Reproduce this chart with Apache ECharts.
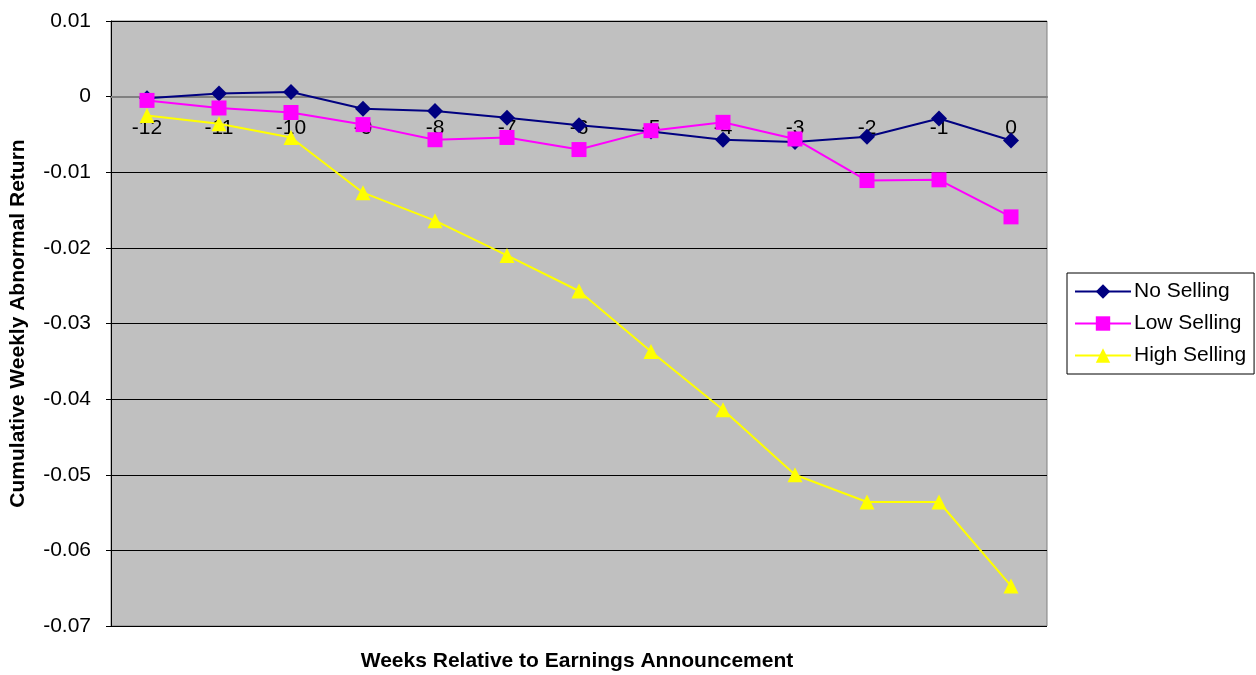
<!DOCTYPE html>
<html>
<head>
<meta charset="utf-8"/>
<script src="https://cdn.jsdelivr.net/npm/echarts@6/dist/echarts.min.js"></script>
<style>
  body { margin:0; background:#fff; }
  #chart { width:1256px; height:675px; }
</style>
</head>
<body>
<div id="chart"></div>
<script>
// weeks relative to the announcement
var weeks = ['-12','-11','-10','-9','-8','-7','-6','-5','-4','-3','-2','-1','0'];
var noSelling   = [-0.0002, 0.0004, 0.0006, -0.0016, -0.0019, -0.0028, -0.0038, -0.0046, -0.0057, -0.0060, -0.0053, -0.0029, -0.0058];
var lowSelling  = [-0.0005, -0.0015, -0.0021, -0.0037, -0.0057, -0.0054, -0.0070, -0.0045, -0.0034, -0.0056, -0.0111, -0.0110, -0.0159];
var highSelling = [-0.0025, -0.0036, -0.0054, -0.0127, -0.0164, -0.0210, -0.0257, -0.0337, -0.0414, -0.0500, -0.0536, -0.0536, -0.0647];
var yMin = -0.07, yMax = 0.01;

var fnt = 'Arial, "Liberation Sans", sans-serif';
var gTop = 21, gBottom = 49, H = 675;
// move the category axis up to the zero line
var plotH = H - gTop - gBottom;
var zeroOffset = -plotH * (0 - yMin) / (yMax - yMin);

var chart = echarts.init(document.getElementById('chart'));

function mk(name, data, color, symbol, size){
  return {
    name: name, type: 'line', data: data,
    symbol: symbol, symbolSize: size,
    itemStyle: { color: color },
    lineStyle: { color: color, width: 2 },
    emphasis: { disabled: true },
    animation: false
  };
}

chart.setOption({
  animation: false,
  grid: {
    left: 107, right: 209, top: gTop, bottom: gBottom,
    show: true, backgroundColor: '#C0C0C0', borderColor: '#808080', borderWidth: 1
  },
  legend: {
    orient: 'vertical', left: 1067, top: 273,
    padding: [8, 8, 8, 7], itemGap: 11,
    itemWidth: 56, itemHeight: 18,
    borderColor: '#000', borderWidth: 1, backgroundColor: '#fff',
    textStyle: { fontFamily: fnt, fontSize: 21, color: '#000', padding: [0, 0, 0, -2] },
    data: ['No Selling', 'Low Selling', 'High Selling']
  },
  xAxis: {
    type: 'category', data: weeks, boundaryGap: true,
    position: 'bottom', offset: zeroOffset,
    axisLine: { onZero: false, lineStyle: { color: '#808080', width: 2 } },
    axisTick: { inside: true, length: 6, lineStyle: { color: '#505050', width: 1 } },
    axisLabel: { margin: 21, color: '#000', fontFamily: fnt, fontSize: 21 },
    splitLine: { show: false }
  },
  yAxis: {
    type: 'value', min: yMin, max: yMax, interval: 0.01,
    name: 'Cumulative Weekly Abnormal Return',
    nameLocation: 'middle', nameGap: 82,
    nameTextStyle: { fontFamily: fnt, fontSize: 21, fontWeight: 'bold', color: '#000' },
    axisLine: { show: true, onZero: false, lineStyle: { color: '#000', width: 1 } },
    axisTick: { show: true, length: 5, lineStyle: { color: '#000' } },
    axisLabel: {
      margin: 20, color: '#000', fontFamily: fnt, fontSize: 21,
      formatter: function(v){ return Math.abs(v) < 1e-9 ? '0' : v.toFixed(2); }
    },
    splitLine: { show: true, lineStyle: { color: '#000', width: 1 } }
  },
  graphic: [{
    type: 'text', x: 577, y: 661,
    style: {
      text: 'Weeks Relative to Earnings Announcement',
      align: 'center', verticalAlign: 'middle',
      font: 'bold 21px Arial, "Liberation Sans", sans-serif', fill: '#000'
    }
  }],
  series: [
    mk('No Selling', noSelling, '#000080', 'diamond', 16),
    mk('Low Selling', lowSelling, '#FF00FF', 'rect', 15),
    mk('High Selling', highSelling, '#FFFF00', 'triangle', 15)
  ]
});
</script>
</body>
</html>
